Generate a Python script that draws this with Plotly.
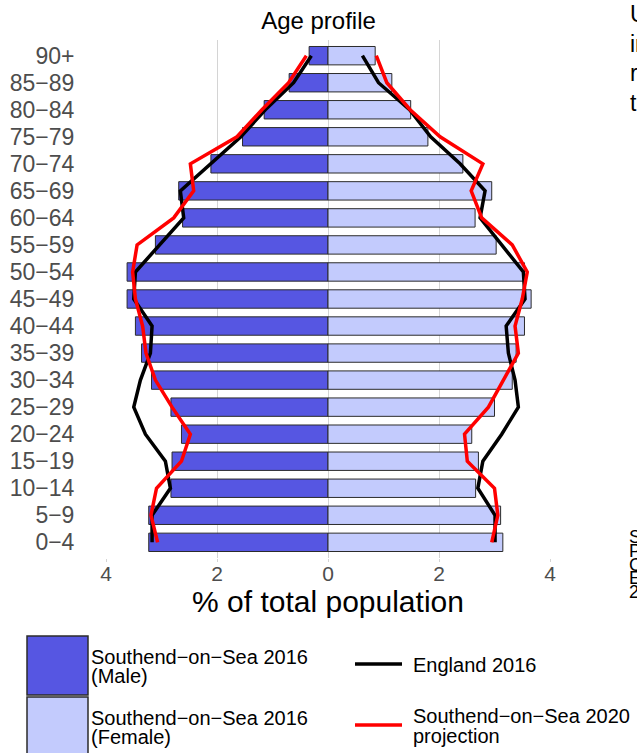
import plotly.graph_objects as go

ages = ["0\u22124", "5\u22129", "10\u221214", "15\u221219", "20\u221224", "25\u221229", "30\u221234",
        "35\u221239", "40\u221244", "45\u221249", "50\u221254", "55\u221259", "60\u221264", "65\u221269",
        "70\u221274", "75\u221279", "80\u221284", "85\u221289", "90+"]

male_2016 = [3.23, 3.23, 2.83, 2.81, 2.64, 2.83, 3.18, 3.36, 3.47, 3.62, 3.62, 3.11, 2.62, 2.69,
             2.11, 1.54, 1.15, 0.70, 0.34]
female_2016 = [3.15, 3.11, 2.66, 2.71, 2.59, 3.00, 3.32, 3.39, 3.54, 3.66, 3.54, 3.03, 2.65, 2.95,
               2.43, 1.80, 1.49, 1.15, 0.85]
england_male = [3.17, 3.17, 2.84, 2.93, 3.29, 3.50, 3.38, 3.20, 3.17, 3.50, 3.47, 3.04, 2.60, 2.66,
                2.11, 1.57, 1.13, 0.62, 0.30]
england_female = [3.01, 3.01, 2.70, 2.79, 3.13, 3.43, 3.37, 3.25, 3.21, 3.55, 3.52, 3.13, 2.74, 2.83,
                  2.38, 1.85, 1.47, 0.91, 0.62]
proj_male = [3.07, 3.19, 3.09, 2.64, 2.48, 2.81, 3.11, 3.28, 3.34, 3.47, 3.52, 3.44, 2.78, 2.42,
             2.48, 1.64, 1.19, 0.71, 0.39]
proj_female = [2.95, 3.06, 3.00, 2.51, 2.46, 2.89, 3.16, 3.43, 3.37, 3.50, 3.59, 3.32, 2.77, 2.58,
               2.79, 2.02, 1.48, 1.06, 0.87]

x_ticks = [-4, -2, 0, 2, 4]
x_tick_text = ["4", "2", "0", "2", "4"]

MALE_C = "#5656E2"
FEMALE_C = "#C3CBFD"
OUTLINE = "#2b2b2b"
RED = "#FF0000"
FONT = "Liberation Sans, Arial, sans-serif"

fig = go.Figure()
fig.add_trace(go.Bar(y=ages, x=[-v for v in male_2016], orientation="h", width=0.68,
                     marker=dict(color=MALE_C, line=dict(color=OUTLINE, width=1)),
                     name="Southend\u2212on\u2212Sea 2016 (Male)", showlegend=False))
fig.add_trace(go.Bar(y=ages, x=female_2016, orientation="h", width=0.68,
                     marker=dict(color=FEMALE_C, line=dict(color=OUTLINE, width=1)),
                     name="Southend\u2212on\u2212Sea 2016 (Female)", showlegend=False))
fig.add_trace(go.Scatter(y=ages, x=[-v for v in england_male], mode="lines",
                         line=dict(color="black", width=3.5), showlegend=False))
fig.add_trace(go.Scatter(y=ages, x=england_female, mode="lines",
                         line=dict(color="black", width=3.5), showlegend=False))
fig.add_trace(go.Scatter(y=ages, x=[-v for v in proj_male], mode="lines",
                         line=dict(color=RED, width=3.5), showlegend=False))
fig.add_trace(go.Scatter(y=ages, x=proj_female, mode="lines",
                         line=dict(color=RED, width=3.5), showlegend=False))

# body margin removed in the page, so figure pixels equal window pixels
W, H = 637, 753
L, R, T, B = 106, 87, 40, 195
PW, PH = W - L - R, H - T - B


def px(x):
    return (x - L) / PW


def py(y):
    return (H - B - y) / PH


shapes = [
    dict(type="rect", xref="paper", yref="paper", x0=px(27), x1=px(88), y0=py(636), y1=py(695),
         fillcolor=MALE_C, line=dict(color=OUTLINE, width=1.5)),
    dict(type="rect", xref="paper", yref="paper", x0=px(27), x1=px(88), y0=py(697), y1=py(760),
         fillcolor=FEMALE_C, line=dict(color=OUTLINE, width=1.5)),
    dict(type="line", xref="paper", yref="paper", x0=px(355), x1=px(402), y0=py(664), y1=py(664),
         line=dict(color="black", width=3.5)),
    dict(type="line", xref="paper", yref="paper", x0=px(355), x1=px(402), y0=py(725), y1=py(725),
         line=dict(color=RED, width=3.5)),
]

ann = []


def text(x, y, s, size=20, color="black"):
    ann.append(dict(xref="paper", yref="paper", x=px(x), y=py(y), text=s, showarrow=False,
                    xanchor="left", yanchor="middle", xshift=-3,
                    font=dict(size=size, color=color, family=FONT)))


text(92, 657, "Southend\u2212on\u2212Sea 2016")
text(92, 676, "(Male)")
text(92, 718, "Southend\u2212on\u2212Sea 2016")
text(92, 737, "(Female)")
text(414, 665, "England 2016")
text(414, 716, "Southend\u2212on\u2212Sea 2020")
text(414, 736, "projection")

# side text (cut off at the right edge of the window)
for i, s in enumerate(["Using the latest", "information on the", "resident population,", "the chart shows"]):
    text(631, 14 + i * 29.5, s, size=23)
for i, s in enumerate(["Source: ONS Mid-Year", "Population Estimates,", "Census 2011 and", "ESA Projections", "2020"]):
    text(630, 537 + i * 13.8, s, size=18)

fig.update_layout(
    width=W, height=H,
    margin=dict(l=L, r=R, t=T, b=B, autoexpand=False),
    paper_bgcolor="white", plot_bgcolor="white",
    barmode="overlay",
    font=dict(family=FONT),
    title=dict(text="Age profile", x=px(328), xanchor="center", y=1 - 21 / H, yanchor="middle",
               font=dict(size=24, color="black", family=FONT)),
    shapes=shapes,
    annotations=ann,
    showlegend=False,
)
fig.update_xaxes(range=[-4, 4], tickvals=x_ticks, ticktext=x_tick_text,
                 showgrid=True, gridcolor="#D4D4D4", gridwidth=1.3, zeroline=False,
                 ticks="outside", ticklen=3, tickcolor="#D4D4D4",
                 ticklabelstandoff=-6, automargin=False,
                 tickfont=dict(size=21, color="#4D4D4D", family=FONT),
                 title=dict(text="% of total population", standoff=0,
                            font=dict(size=30, color="black", family=FONT)),
                 showline=False, fixedrange=True)
fig.update_yaxes(type="category", categoryorder="array", categoryarray=ages, range=[-0.58, 18.58],
                 tickmode="array", tickvals=ages, ticktext=ages, automargin=False,
                 showgrid=False, zeroline=False, showline=False,
                 ticks="outside", ticklen=26, tickcolor="rgba(0,0,0,0)",
                 tickfont=dict(size=23, color="#4D4D4D", family=FONT), fixedrange=True)

fig.write_html("out.html",
               config={"displayModeBar": False},
               post_script="document.body.style.margin='0';"
                           "document.body.style.overflow='hidden';"
                           "document.documentElement.style.overflow='hidden';")
